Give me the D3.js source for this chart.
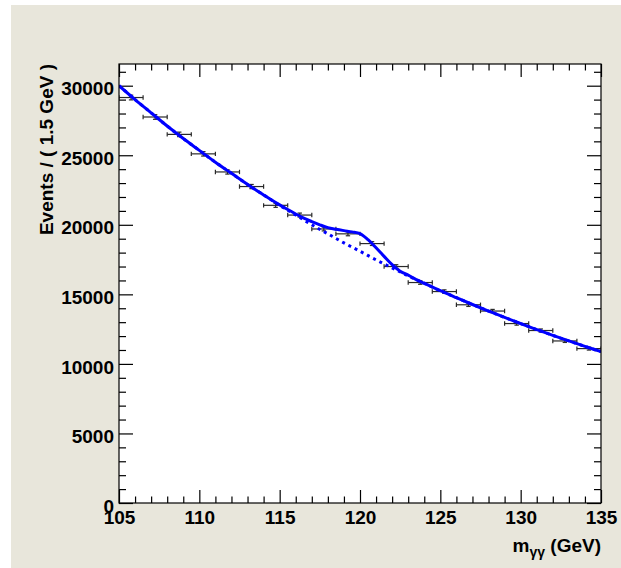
<!DOCTYPE html>
<html>
<head>
<meta charset="utf-8">
<script src="https://cdn.jsdelivr.net/npm/d3@7"></script>
<style>
  html, body { margin: 0; padding: 0; background: #ffffff; }
  svg { display: block; }
  text { font-family: "Liberation Sans", Arial, Helvetica, sans-serif; font-weight: bold; fill: #000; }
</style>
</head>
<body>
<svg id="chart" width="621" height="568"></svg>
<script>
// Diphoton mass spectrum: binned events (1.5 GeV bins) with background-only and signal+background fits
const binCenters = [105.75, 107.25, 108.75, 110.25, 111.75, 113.25, 114.75, 116.25, 117.75, 119.25,
                    120.75, 122.25, 123.75, 125.25, 126.75, 128.25, 129.75, 131.25, 132.75, 134.25];
const binHalfWidth = 0.75;
const eventCounts = [29150, 27750, 26500, 25100, 23800, 22750, 21400, 20700, 19700, 19350,
                     18650, 17000, 15850, 15200, 14250, 13800, 12900, 12400, 11650, 11100];

// Background-only fit (dotted)
const bkgMass = [105, 106, 107, 108, 109, 110, 111, 112, 113, 114, 115, 116, 117, 118, 119, 120,
                 121, 122, 123, 124, 125, 126, 127, 128, 129, 130, 131, 132, 133, 134, 135];
const bkgValues = [30000, 29000, 28050, 27100, 26200, 25350, 24500, 23700, 22900, 22150, 21400,
                   20700, 20000, 19350, 18700, 18100, 17480, 16900, 16330, 15800, 15260, 14760,
                   14270, 13800, 13340, 12900, 12470, 12050, 11650, 11260, 10880];

// Signal + background fit (solid)
const totalMass = [105, 106, 107, 108, 109, 110, 111, 112, 113, 114, 114.5, 115, 115.5, 116, 116.5,
                   117, 117.5, 118, 118.5, 119, 119.5, 120, 120.5, 121, 121.5, 122, 122.5, 123,
                   123.5, 124, 125, 126, 127, 128, 129, 130, 131, 132, 133, 134, 135];
const totalValues = [30000, 29000, 28050, 27100, 26200, 25350, 24500, 23700, 22900, 22150, 21780,
                     21430, 21100, 20780, 20480, 20230, 20000, 19800, 19680, 19580, 19490, 19370,
                     18930, 18350, 17730, 17130, 16660, 16380, 16060, 15790, 15260, 14760, 14270,
                     13800, 13340, 12900, 12470, 12050, 11650, 11260, 10880];

const xMajorTicks = [105, 110, 115, 120, 125, 130, 135];
const yMajorTicks = [0, 5000, 10000, 15000, 20000, 25000, 30000];
const xTitleMain = "m";
const xTitleSub = "\u03b3\u03b3";
const xTitleUnit = " (GeV)";
const yTitle = "Events / ( 1.5 GeV )";

const svg = d3.select("#chart");
const W = 621, H = 568;
const frame = { left: 119, right: 601, top: 64, bottom: 503 };

// canvas background
svg.append("rect").attr("x", 11).attr("y", 5).attr("width", W - 11).attr("height", H - 5)
   .attr("fill", "#e8e6db");
svg.append("rect").attr("x", frame.left).attr("y", frame.top)
   .attr("width", frame.right - frame.left).attr("height", frame.bottom - frame.top)
   .attr("fill", "#ffffff");

const x = d3.scaleLinear().domain([105, 135]).range([frame.left, frame.right]);
const y = d3.scaleLinear().domain([0, 31560]).range([frame.bottom, frame.top]);

const xMinor = d3.range(105, 135.001, 1).filter(v => v % 5 !== 0);
const yMinor = d3.range(0, 31560, 1000).filter(v => v % 5000 !== 0);

function styleAxis(g) {
  g.select(".domain").remove();
  g.selectAll(".tick line").attr("stroke", "#000").attr("stroke-width", 1.2);
}

// bottom axis
svg.append("g").attr("transform", `translate(0,${frame.bottom})`)
  .call(d3.axisBottom(x).tickValues(xMajorTicks).tickSizeInner(-13).tickSizeOuter(0)
        .tickPadding(8).tickFormat(d3.format("d")))
  .call(styleAxis)
  .call(g => g.selectAll(".tick text").attr("font-size", 19).attr("dy", "0.71em")
              .style("font-family", "'Liberation Sans', Arial, sans-serif").style("font-weight", "bold").attr("fill", "#000"));
svg.append("g").attr("transform", `translate(0,${frame.bottom})`)
  .call(d3.axisBottom(x).tickValues(xMinor).tickSizeInner(-6.5).tickSizeOuter(0).tickFormat(""))
  .call(styleAxis);

// top axis (ticks only)
svg.append("g").attr("transform", `translate(0,${frame.top})`)
  .call(d3.axisTop(x).tickValues(xMajorTicks).tickSizeInner(-13).tickSizeOuter(0).tickFormat(""))
  .call(styleAxis);
svg.append("g").attr("transform", `translate(0,${frame.top})`)
  .call(d3.axisTop(x).tickValues(xMinor).tickSizeInner(-6.5).tickSizeOuter(0).tickFormat(""))
  .call(styleAxis);

// left axis
svg.append("g").attr("transform", `translate(${frame.left},0)`)
  .call(d3.axisLeft(y).tickValues(yMajorTicks).tickSizeInner(-14).tickSizeOuter(0)
        .tickPadding(5).tickFormat(d3.format("d")))
  .call(styleAxis)
  .call(g => g.selectAll(".tick text").attr("font-size", 19).attr("dy", "0.48em")
              .style("font-family", "'Liberation Sans', Arial, sans-serif").style("font-weight", "bold").attr("fill", "#000"));
svg.append("g").attr("transform", `translate(${frame.left},0)`)
  .call(d3.axisLeft(y).tickValues(yMinor).tickSizeInner(-7).tickSizeOuter(0).tickFormat(""))
  .call(styleAxis);

// right axis (ticks only)
svg.append("g").attr("transform", `translate(${frame.right},0)`)
  .call(d3.axisRight(y).tickValues(yMajorTicks).tickSizeInner(-14).tickSizeOuter(0).tickFormat(""))
  .call(styleAxis);
svg.append("g").attr("transform", `translate(${frame.right},0)`)
  .call(d3.axisRight(y).tickValues(yMinor).tickSizeInner(-7).tickSizeOuter(0).tickFormat(""))
  .call(styleAxis);

// clip region for plotted content
svg.append("clipPath").attr("id", "plotClip").append("rect")
   .attr("x", frame.left).attr("y", frame.top)
   .attr("width", frame.right - frame.left).attr("height", frame.bottom - frame.top);
const plot = svg.append("g").attr("clip-path", "url(#plotClip)");

// data points with error bars
const data = binCenters.map((c, i) => ({ c, v: eventCounts[i] }));
const cap = 2.2;
const pts = plot.append("g").attr("stroke", "#2a2a2a").attr("stroke-width", 1.2).attr("fill", "none");
data.forEach(d => {
  const g = pts.append("g");
  const x0 = x(d.c - binHalfWidth), x1 = x(d.c + binHalfWidth), yc = y(d.v), xc = x(d.c);
  const err = Math.sqrt(d.v);
  g.append("line").attr("x1", x0).attr("x2", x1).attr("y1", yc).attr("y2", yc);
  g.append("line").attr("x1", x0).attr("x2", x0).attr("y1", yc - cap).attr("y2", yc + cap);
  g.append("line").attr("x1", x1).attr("x2", x1).attr("y1", yc - cap).attr("y2", yc + cap);
  g.append("line").attr("x1", xc).attr("x2", xc).attr("y1", y(d.v + err)).attr("y2", y(d.v - err));
  g.append("line").attr("x1", xc - cap).attr("x2", xc + cap).attr("y1", y(d.v + err)).attr("y2", y(d.v + err));
  g.append("line").attr("x1", xc - cap).attr("x2", xc + cap).attr("y1", y(d.v - err)).attr("y2", y(d.v - err));
});

// fit curves
const line = d3.line().x(d => x(d[0])).y(d => y(d[1])).curve(d3.curveCatmullRom.alpha(0.5));
plot.append("path")
  .datum(bkgMass.map((m, i) => [m, bkgValues[i]]))
  .attr("d", line).attr("fill", "none").attr("stroke", "#0000ff")
  .attr("stroke-width", 3).attr("stroke-dasharray", "3 4");
plot.append("path")
  .datum(totalMass.map((m, i) => [m, totalValues[i]]))
  .attr("d", line).attr("fill", "none").attr("stroke", "#0000ff")
  .attr("stroke-width", 3);

// frame
svg.append("rect").attr("x", frame.left).attr("y", frame.top)
   .attr("width", frame.right - frame.left).attr("height", frame.bottom - frame.top)
   .attr("fill", "none").attr("stroke", "#000").attr("stroke-width", 1.2);

// axis titles
const xt = svg.append("text").attr("x", frame.right).attr("y", 552)
  .attr("text-anchor", "end").attr("font-size", 19);
xt.append("tspan").text(xTitleMain);
xt.append("tspan").attr("font-size", 14).attr("dy", 5).text(xTitleSub);
xt.append("tspan").attr("dy", -5).text(xTitleUnit);

svg.append("text")
  .attr("transform", `translate(53,${frame.top}) rotate(-90)`)
  .attr("text-anchor", "end").attr("font-size", 19)
  .text(yTitle);
</script>
</body>
</html>
